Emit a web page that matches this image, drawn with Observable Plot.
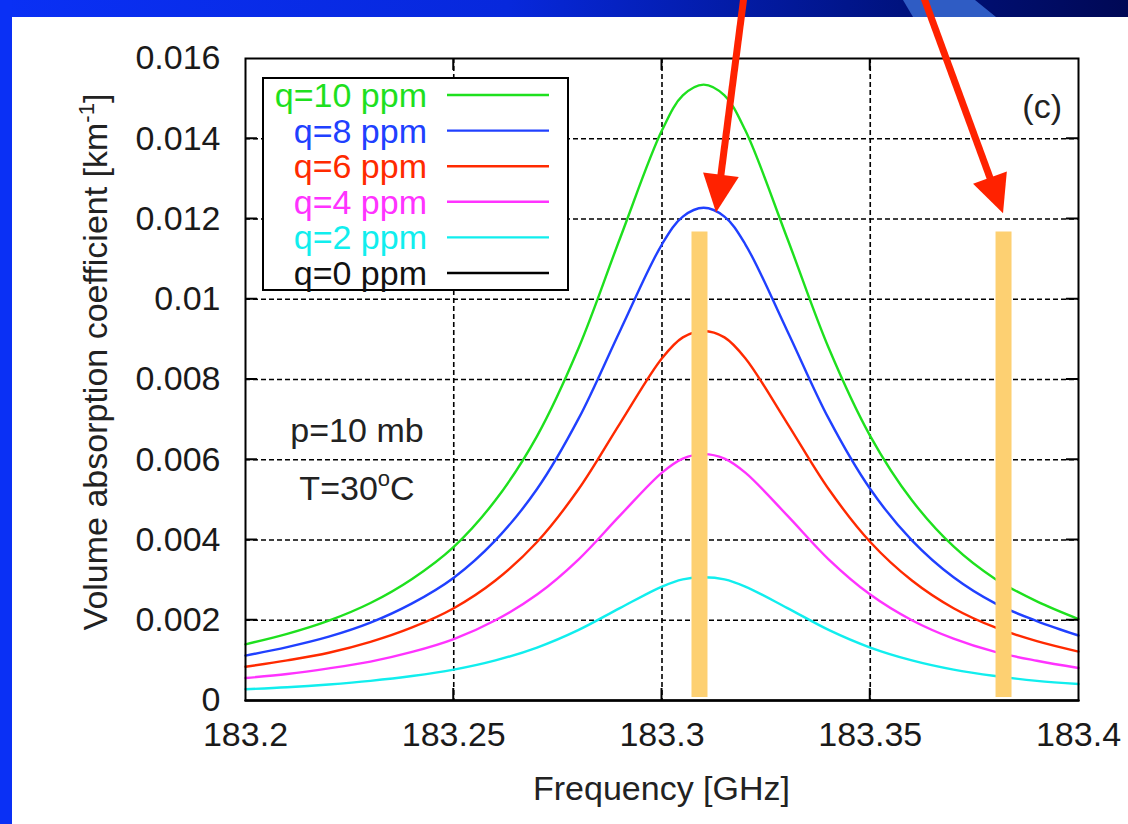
<!DOCTYPE html>
<html><head><meta charset="utf-8">
<script src="https://cdn.jsdelivr.net/npm/d3@7"></script>
<script src="https://cdn.jsdelivr.net/npm/@observablehq/plot@0.6"></script>
<style>
html,body{margin:0;padding:0;background:#fff;width:1128px;height:824px;overflow:hidden;}
#wrap{position:relative;width:1128px;height:824px;}
#topbar{position:absolute;left:0;top:0;width:1128px;height:17px;background:linear-gradient(90deg,#0a30f5 0%,#0728dc 45%,#00127e 80%,#000855 100%);}
#shine{position:absolute;left:0;top:0;width:1128px;height:17px;background:#2f5cc4;clip-path:polygon(903px 0,975px 0,996px 17px,913px 17px);}
#leftbar{position:absolute;left:0;top:0;width:12px;height:824px;background:#0a30f5;}
#chart{position:absolute;left:0;top:0;}
</style></head><body>
<div id="wrap"><div id="topbar"></div><div id="shine"></div><div id="leftbar"></div><div id="chart"></div></div>
<script>
// ---- data ----
const freqs = [183.20,183.21,183.22,183.23,183.24,183.25,183.26,183.27,183.28,183.29,183.30,183.305,183.31,183.315,183.32,183.33,183.34,183.35,183.36,183.37,183.38,183.39,183.40];
const q10 = [0.00140,0.00166,0.00199,0.00243,0.00303,0.00383,0.00499,0.00659,0.00879,0.01154,0.01421,0.01508,0.01535,0.01508,0.01421,0.01154,0.00879,0.00659,0.00499,0.00384,0.00303,0.00247,0.00203];
const q8  = [0.00112,0.00133,0.00159,0.00194,0.00242,0.00306,0.00399,0.00527,0.00703,0.00923,0.01137,0.01206,0.01228,0.01206,0.01137,0.00923,0.00703,0.00527,0.00399,0.00307,0.00242,0.00198,0.00162];
const q6  = [0.00084,0.00100,0.00119,0.00146,0.00182,0.00230,0.00299,0.00395,0.00527,0.00692,0.00853,0.00905,0.00921,0.00905,0.00853,0.00692,0.00527,0.00395,0.00299,0.00230,0.00182,0.00148,0.00122];
const q4  = [0.00056,0.00066,0.00080,0.00097,0.00121,0.00153,0.00200,0.00264,0.00352,0.00462,0.00568,0.00603,0.00614,0.00603,0.00568,0.00462,0.00352,0.00264,0.00200,0.00154,0.00121,0.00099,0.00081];
const q2  = [0.00028,0.00033,0.00040,0.00049,0.00061,0.00077,0.00100,0.00132,0.00176,0.00231,0.00284,0.00302,0.00307,0.00302,0.00284,0.00231,0.00176,0.00132,0.00100,0.00077,0.00061,0.00049,0.00041];
const q0  = [0,0,0,0,0,0,0,0,0,0,0,0,0,0,0,0,0,0,0,0,0,0,0];
const seriesNames = ["q=10 ppm","q=8 ppm","q=6 ppm","q=4 ppm","q=2 ppm","q=0 ppm"];
const seriesColors = ["#1ee01e","#2040ff","#ff2a00","#ff33ff","#11eeee","#000000"];
const legendTextColors = ["#1ee01e","#2040ff","#ff2a00","#ff33ff","#11eeee","#111111"];
const xTicks = [183.2,183.25,183.3,183.35,183.4];
const xTickLabels = ["183.2","183.25","183.3","183.35","183.4"];
const yTicks = [0,0.002,0.004,0.006,0.008,0.01,0.012,0.014,0.016];
const yTickLabels = ["0","0.002","0.004","0.006","0.008","0.01","0.012","0.014","0.016"];
const markerFreqs = [183.309,183.382];
const markerRange = [0.000075,0.011675];
const arrowFrom = [[183.3200,0.0177],[183.3623,0.0177]];
const arrowTo   = [[183.3131,0.01215],[183.3820,0.01213]];
const xTitle = "Frequency [GHz]";
const yTitle = "Volume absorption coefficient [km";
const panelTag = "(c)";
const condLines = ["p=10 mb","T=30"];

// ---- build table ----
const seriesValues = [q10,q8,q6,q4,q2,q0];
const table = [];
seriesNames.forEach((s,i)=>freqs.forEach((f,j)=>table.push({series:s,f:f,v:seriesValues[i][j]})));
const xLab = new Map(xTicks.map((t,i)=>[t,xTickLabels[i]]));
const yLab = new Map(yTicks.map((t,i)=>[t,yTickLabels[i]]));

const font = "'Liberation Sans', Arial, Helvetica, sans-serif";
const gridStyle = {stroke:"#000",strokeOpacity:1,strokeWidth:1.6,strokeDasharray:"5,3"};

const plot = Plot.plot({
  width:1128, height:824,
  marginLeft:245, marginRight:50, marginTop:58, marginBottom:124,
  style:{fontFamily:font,fontSize:"34px",color:"#1a1a1a",background:"transparent",overflow:"visible"},
  x:{domain:[183.2,183.4]},
  y:{domain:[0,0.016]},
  color:{domain:seriesNames,range:seriesColors},
  marks:[
    Plot.gridX(xTicks.slice(1,-1),gridStyle),
    Plot.gridY(yTicks.slice(1,-1),gridStyle),
    Plot.line(table,{x:"f",y:"v",z:"series",stroke:"series",strokeWidth:2.4,curve:"catmull-rom"}),
    Plot.ruleX(markerFreqs,{x:d=>d,y1:markerRange[0],y2:markerRange[1],stroke:"#fdd072",strokeWidth:16}),
    Plot.axisX(xTicks,{tickSize:0,tickPadding:21,tickFormat:d=>xLab.get(d),label:null}),
    Plot.axisY(yTicks,{tickSize:0,tickPadding:25,tickFormat:d=>yLab.get(d),label:null}),
    Plot.frame({stroke:"#000",strokeWidth:2})
  ]
});
document.getElementById("chart").appendChild(plot);

const sx = plot.scale("x"), sy = plot.scale("y");
const X = v=>sx.apply(v), Y = v=>sy.apply(v);
const svg = d3.select(plot);
const L = X(183.2), R = X(183.4), T = Y(0.016), B = Y(0);
const g = svg.append("g").attr("font-family",font);

// inward solid ticks (mirrored)
xTicks.slice(1,-1).forEach(t=>{
  g.append("line").attr("x1",X(t)).attr("x2",X(t)).attr("y1",B).attr("y2",B-12).attr("stroke","#000").attr("stroke-width",2);
  g.append("line").attr("x1",X(t)).attr("x2",X(t)).attr("y1",T).attr("y2",T+12).attr("stroke","#000").attr("stroke-width",2);
});
yTicks.slice(1,-1).forEach(t=>{
  g.append("line").attr("x1",L).attr("x2",L+12).attr("y1",Y(t)).attr("y2",Y(t)).attr("stroke","#000").attr("stroke-width",2);
  g.append("line").attr("x1",R).attr("x2",R-12).attr("y1",Y(t)).attr("y2",Y(t)).attr("stroke","#000").attr("stroke-width",2);
});

// legend
const lg = g.append("g");
lg.append("rect").attr("x",L+18).attr("y",T+20).attr("width",305).attr("height",212)
  .attr("fill","#fff").attr("stroke","#000").attr("stroke-width",2);
seriesNames.forEach((s,i)=>{
  const cy = T+37+i*35.6;
  lg.append("text").attr("x",L+182).attr("y",cy+12).attr("text-anchor","end")
    .attr("font-size",34).attr("fill",legendTextColors[i]).text(s);
  lg.append("line").attr("x1",L+202).attr("x2",L+304).attr("y1",cy).attr("y2",cy)
    .attr("stroke",seriesColors[i]).attr("stroke-width",2.4);
});

// annotations
g.append("text").attr("x",R-16).attr("y",T+60).attr("text-anchor","end").attr("font-size",34).attr("fill","#222").text(panelTag);
g.append("text").attr("x",L+112).attr("y",442).attr("text-anchor","middle").attr("font-size",34).attr("fill","#222").text(condLines[0]);
const tt = g.append("text").attr("x",L+112).attr("y",500).attr("text-anchor","middle").attr("font-size",34).attr("fill","#222");
tt.append("tspan").text(condLines[1]);
tt.append("tspan").attr("dy",-14).attr("font-size",22).text("o");
tt.append("tspan").attr("dy",14).text("C");

// axis titles
g.append("text").attr("x",(L+R)/2).attr("y",800).attr("text-anchor","middle").attr("font-size",34).attr("fill","#222").text(xTitle);
const yt = g.append("text").attr("transform",`translate(107,${(T+B)/2-17}) rotate(-90)`).attr("text-anchor","middle").attr("font-size",34).attr("fill","#222");
yt.append("tspan").text(yTitle);
yt.append("tspan").attr("dy",-13).attr("font-size",22).text("-1");
yt.append("tspan").attr("dy",13).text("]");

// arrows
arrowFrom.forEach((a,i)=>{
  const x0=X(a[0]), y0=Y(a[1]), x1=X(arrowTo[i][0]), y1=Y(arrowTo[i][1]);
  const dx=x1-x0, dy=y1-y0, len=Math.hypot(dx,dy), ux=dx/len, uy=dy/len;
  const hl=38, hw=18;
  const bx=x1-ux*hl, by=y1-uy*hl;
  g.append("line").attr("x1",x0).attr("y1",y0).attr("x2",bx+ux*2).attr("y2",by+uy*2)
    .attr("stroke","#ff2200").attr("stroke-width",7);
  g.append("polygon").attr("points",`${x1},${y1} ${bx-uy*hw},${by+ux*hw} ${bx+uy*hw},${by-ux*hw}`).attr("fill","#ff2200");
});
</script>
</body></html>
